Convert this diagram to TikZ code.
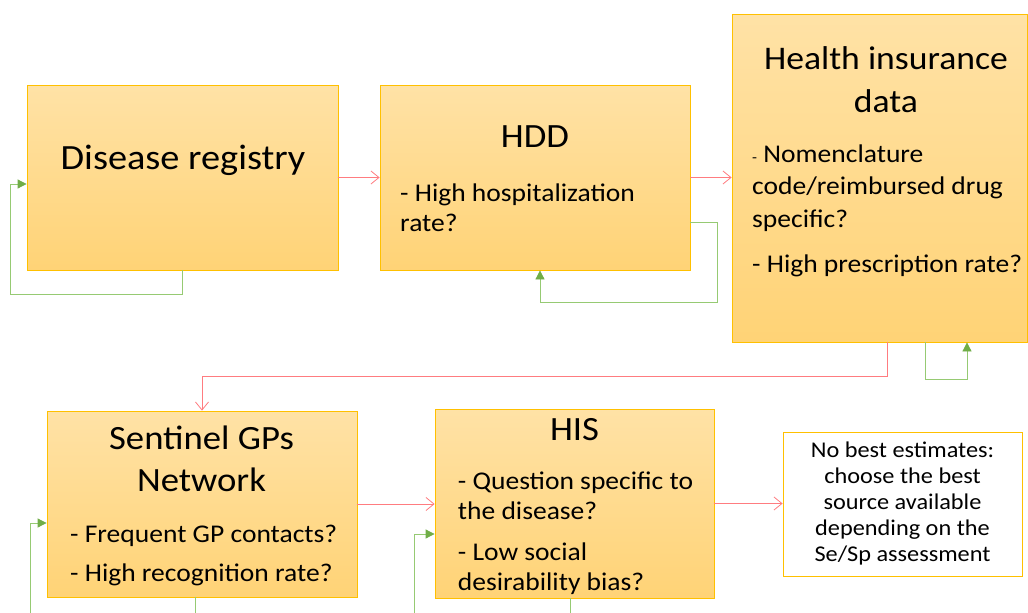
\documentclass[tikz,border=0pt]{standalone}
\usepackage{fontspec}
\setmainfont{Carlito}[FakeStretch=1.08]
\usetikzlibrary{arrows.meta,calc}

\definecolor{boxedge}{RGB}{255,192,0}
\definecolor{boxtop}{RGB}{255,226,166}
\definecolor{boxbot}{RGB}{255,211,118}
\definecolor{redline}{RGB}{255,124,128}
\definecolor{greenline}{RGB}{150,202,115}
\definecolor{greentip}{RGB}{112,173,71}

\begin{document}
\begin{tikzpicture}[x=1pt,y=1pt,
    srcbox/.style={draw=boxedge, line width=0.8pt, top color=boxtop, bottom color=boxbot, inner sep=0pt},
    notebox/.style={draw=boxedge, line width=0.8pt, fill=white, inner sep=0pt},
    ttl/.style={inner sep=0pt, align=center, anchor=base, font=\fontsize{34}{42}\selectfont},
    txt/.style={inner sep=0pt, align=left, anchor=base west, font=\fontsize{25.5}{29.5}\selectfont},
    nextsrc/.style={draw=redline, line width=0.8pt, -{Straight Barb[length=8pt,width=13pt]}},
    loopline/.style={draw=greenline, line width=0.8pt},
    loopback/.style={loopline, -{Triangle[length=9pt,width=9pt,color=greentip]}}]
    \useasboundingbox (0,0) rectangle (1028,-613);

    % Disease registry box
    \node[srcbox, minimum width=311, minimum height=185] (reg) at (182.5,-177.5) {};
    \node[ttl, font=\fontsize{35.5}{42}\selectfont] (regtitle) at (183,-169.3) {Disease registry};

    % HDD box
    \node[srcbox, minimum width=310, minimum height=185] (hdd) at (535,-177.5) {};
    \node[ttl] (hddtitle) at (535,-147.3) {HDD};
    \node[txt] (hddtxt) at (400,-231.3) {- High hospitalization\\rate?};

    % Health insurance box
    \node[srcbox, minimum width=295, minimum height=328] (hi) at (879.5,-178) {};
    \node[ttl, font=\fontsize{33}{43}\selectfont] (hititle) at (886,-112.3) {Health insurance\\data};
    \node[txt, font=\fontsize{25.5}{32.5}\selectfont] (hitxt) at (752,-272.5) {{\fontsize{15}{15}\selectfont -} Nomenclature\\code/reimbursed drug\\specific?\\[13pt]- High prescription rate?};

    % Sentinel GPs box
    \node[srcbox, minimum width=310, minimum height=186] (sent) at (202,-504) {};
    \node[ttl] (senttitle) at (201.5,-491.7) {Sentinel GPs\\Network};
    \node[txt, font=\fontsize{25.5}{39}\selectfont] (senttxt) at (70,-581.7) {- Frequent GP contacts?\\- High recognition rate?};

    % HIS box
    \node[srcbox, minimum width=279, minimum height=189] (his) at (574.5,-503.5) {};
    \node[ttl] (histitle) at (574.5,-440.7) {HIS};
    \node[txt] (histxt) at (457.7,-590) {- Question specific to\\the disease?\\[11.7pt]- Low social\\desirability bias?};

    % No best estimates
    \node[notebox, minimum width=239, minimum height=144] (note) at (902.5,-504) {};
    \node[inner sep=0pt, align=center, anchor=base, font=\fontsize{22.5}{26}\selectfont] (notetxt) at (902.5,-561.7) {No best estimates:\\choose the best\\source available\\depending on the\\Se/Sp assessment};

    % Red arrows to the next source
    \draw[nextsrc] (reg.east) -- (hdd.west);
    \draw[nextsrc] (hdd.east) -- (hdd.east -| hi.west);
    \draw[nextsrc] ([xshift=7.5]hi.south) -- ++(0,-34) -| (sent.north);
    \draw[nextsrc] (sent.east) -- (sent.east -| his.west);
    \draw[nextsrc] (his.east) -- (his.east -| note.west);

    % Green loops back to the same source
    \draw[loopback] ([xshift=-0.5]reg.south) -- ++(0,-24) -| ([xshift=-16,yshift=-6.5]reg.west) -- ([yshift=-6.5]reg.west);
    \draw[loopback] ([yshift=-44.5]hdd.east) -| ([xshift=27,yshift=-32]hdd.south east) -| ([xshift=5]hdd.south);
    \draw[loopback] ([xshift=45.5]hi.south) -- ++(0,-37) -| ([xshift=87.5]hi.south);

    \coordinate (sentin) at (30,-613);
    \coordinate (sentout) at (195,-613);
    \draw[loopback] (sentin) |- ([yshift=-19]sent.west);
    \draw[loopline] ([xshift=-7]sent.south) -- (sentout);

    \coordinate (hisin) at (414,-613);
    \coordinate (hisout) at (570,-613);
    \draw[loopback] (hisin) |- ([yshift=-30.5]his.west);
    \draw[loopline] ([xshift=-4.5]his.south) -- (hisout);
\end{tikzpicture}
\end{document}
